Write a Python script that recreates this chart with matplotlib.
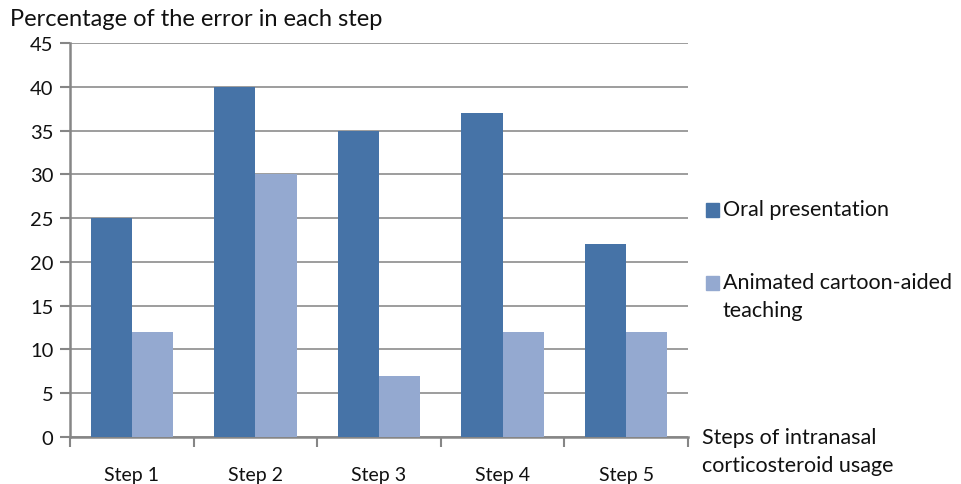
import matplotlib
matplotlib.use("Agg")
import matplotlib.pyplot as plt
from matplotlib.patches import Rectangle
import numpy as np

plt.rcParams['font.family'] = ['Lato', 'DejaVu Sans']

categories = ["Step 1", "Step 2", "Step 3", "Step 4", "Step 5"]
oral = [25, 40, 35, 37, 22]
animated = [12, 30, 7, 12, 12]
series_names = ["Oral presentation", "Animated cartoon-aided\nteaching"]
colors = ["#4673A7", "#94A9D0"]
yticks = [0, 5, 10, 15, 20, 25, 30, 35, 40, 45]

fig = plt.figure(figsize=(9.62, 4.85), dpi=100)
ax = fig.add_axes([70/962, 47/485, 618/962, 394/485])

x = np.arange(len(categories))
w = 1/3
ax.bar(x - w/2, oral, width=w, color=colors[0], zorder=3)
ax.bar(x + w/2, animated, width=w, color=colors[1], zorder=3)

ax.set_xlim(-0.5, len(categories) - 0.5)
ax.set_ylim(0, 45)
ax.set_yticks(yticks)
ax.set_yticklabels([str(v) for v in yticks], fontsize=14.5, color="#111111")
ax.yaxis.grid(True, color="#8c8c8c", linewidth=1.2, zorder=0)
ax.set_axisbelow(True)

ax.set_xticks(np.arange(-0.5, len(categories)), minor=False)
ax.set_xticklabels([])
ax.set_xticks(x, minor=True)
ax.set_xticklabels(categories, minor=True, fontsize=14, color="#111111")
ax.tick_params(axis='x', which='minor', length=0, pad=21)
ax.tick_params(axis='x', which='major', length=7, width=1.5, color="#868686")
ax.tick_params(axis='y', length=7, width=1.5, color="#868686", pad=5)

for s in ["top", "right"]:
    ax.spines[s].set_visible(False)
for s in ["left", "bottom"]:
    ax.spines[s].set_color("#868686")
    ax.spines[s].set_linewidth(1.8)

fig.text(10/962, 1 - 20/485, "Percentage of the error in each step", fontsize=17,
         va="center", ha="left", color="#111111")

# legend (manual)
leg_y = [211, 284]
for i, (name, c) in enumerate(zip(series_names, colors)):
    yy = 1 - leg_y[i]/485
    fig.patches.append(Rectangle((706/962, yy - 7/485), 13/962, 14/485,
                                 transform=fig.transFigure, color=c, figure=fig))
    fig.text(723/962, yy + 11/485, name, fontsize=15.5, va="top", ha="left",
             color="#111111", linespacing=1.5)

fig.text(702/962, 1 - 428/485, "Steps of intranasal\ncorticosteroid usage", fontsize=15.5,
         va="top", ha="left", color="#111111", linespacing=1.5)

fig.savefig("out.png", dpi=100)
